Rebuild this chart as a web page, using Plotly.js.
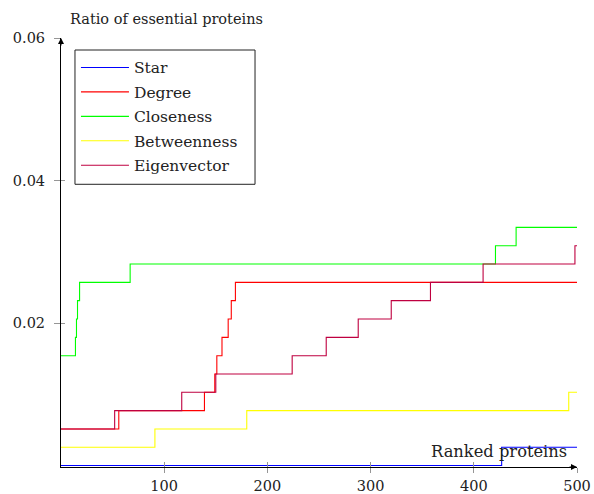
<!DOCTYPE html>
<html>
<head>
<meta charset="utf-8">
<script src="https://cdn.plot.ly/plotly-3.0.1.min.js"></script>
<style>html,body{margin:0;padding:0;background:#fff;}#chart{width:594px;height:494px;}</style>
</head>
<body>
<div id="chart"></div>
<script>
// Data (ranked protein index, ratio of essential proteins), step curves
const seriesNames = ["Star", "Degree", "Closeness", "Betweenness", "Eigenvector"];
const starX = [0, 427, 500];
const starY = [0, 0.00257, 0.00257];
const degreeX = [0, 56, 139, 149, 151, 156, 162, 165, 169, 500];
const degreeY = [0.00514, 0.00771, 0.01028, 0.01285, 0.01542, 0.01799, 0.02057, 0.02314, 0.02571, 0.02571];
const closenessX = [0, 14, 15, 16, 18, 67, 421, 441, 500];
const closenessY = [0.01542, 0.01799, 0.02057, 0.02314, 0.02571, 0.02828, 0.03085, 0.03342, 0.03342];
const betweennessX = [0, 91, 180, 492, 500];
const betweennessY = [0.00257, 0.00514, 0.00771, 0.01028, 0.01028];
const eigenX = [0, 52, 117, 150, 224, 257, 288, 320, 358, 409, 498, 500];
const eigenY = [0.00514, 0.00771, 0.01028, 0.01285, 0.01542, 0.01799, 0.02057, 0.02314, 0.02571, 0.02828, 0.03085, 0.03085];
const xTicks = [100, 200, 300, 400, 500];
const yTicks = [0.02, 0.04, 0.06];
const yTickText = ["0.02", "0.04", "0.06"];

const colors = ["rgb(0,0,255)", "rgb(255,0,0)", "rgb(0,255,0)", "rgb(255,255,0)", "rgb(191,0,64)"];
const xs = [starX, degreeX, closenessX, betweennessX, eigenX];
const ys = [starY, degreeY, closenessY, betweennessY, eigenY];

const FONT = "DejaVu Serif, serif";
const traces = seriesNames.map((n, i) => ({
  x: xs[i], y: ys[i], name: n, type: "scatter", mode: "lines",
  line: {shape: "hv", color: colors[i], width: 1.1},
  legendgroup: "g" + i, hoverinfo: "skip"
}));
// overlay axes for inward tick halves
traces.push({x: [], y: [], xaxis: "x2", yaxis: "y2", showlegend: false, hoverinfo: "skip"});

const tickGray = "rgb(150,150,150)";
const yRange = [-0.0002, 0.06];
const layout = {
  width: 594, height: 494,
  margin: {l: 61, r: 17, t: 38, b: 27},
  paper_bgcolor: "#fff", plot_bgcolor: "#fff",
  font: {family: FONT, size: 14, color: "#222"},
  showlegend: true,
  legend: {
    x: 0.029, y: 0.970, xanchor: "left", yanchor: "top",
    borderwidth: 0, bgcolor: "rgba(0,0,0,0)",
    font: {family: FONT, size: 15.5, color: "#222"},
    tracegroupgap: 1.3, traceorder: "grouped", itemwidth: 48
  },
  shapes: [
    {type: "rect", xref: "paper", yref: "paper", x0: 0.0271, x1: 0.376, y0: 0.659, y1: 0.972,
     line: {color: "#222", width: 1}, fillcolor: "#fff", layer: "above"}
  ],
  xaxis: {
    range: [0, 500], showgrid: false, zeroline: false,
    showline: true, linecolor: "#000", linewidth: 1, layer: "below traces",
    tickvals: xTicks, ticks: "outside", ticklen: 5, tickcolor: tickGray, tickwidth: 1,
    tickfont: {family: FONT, size: 14.5, color: "#222"}, ticklabelstandoff: 1
  },
  yaxis: {
    range: yRange, showgrid: false, zeroline: false,
    showline: true, linecolor: "#000", linewidth: 1, layer: "below traces",
    tickvals: yTicks, ticktext: yTickText, ticks: "outside", ticklen: 6, tickcolor: tickGray, tickwidth: 1,
    tickfont: {family: FONT, size: 14.5, color: "#222"}, ticklabelstandoff: 6
  },
  xaxis2: {
    overlaying: "x", anchor: "y2", range: [0, 500], showgrid: false, zeroline: false, showline: false,
    tickvals: xTicks, ticks: "inside", ticklen: 5, tickcolor: tickGray, tickwidth: 1, showticklabels: false
  },
  yaxis2: {
    overlaying: "y", anchor: "x2", range: yRange, showgrid: false, zeroline: false, showline: false,
    tickvals: yTicks, ticks: "inside", ticklen: 4, tickcolor: tickGray, tickwidth: 1, showticklabels: false
  },
  annotations: [
    {xref: "paper", yref: "paper", x: 0.0136, y: 1.044, xanchor: "left", yanchor: "middle",
     text: "Ratio of essential proteins", showarrow: false, font: {family: FONT, size: 14.5, color: "#222"}},
    {xref: "paper", yref: "paper", x: 0.984, y: 0.036, xanchor: "right", yanchor: "middle",
     text: "Ranked proteins", showarrow: false, font: {family: FONT, size: 16.3, color: "#222"}},
    {xref: "paper", yref: "paper", x: 1, y: 0, ax: -9, ay: 0, text: "", showarrow: true,
     arrowhead: 2, arrowsize: 1.2, arrowwidth: 1, arrowcolor: "#000"},
    {xref: "paper", yref: "paper", x: 0, y: 1, ax: 0, ay: 9, text: "", showarrow: true,
     arrowhead: 2, arrowsize: 1.2, arrowwidth: 1, arrowcolor: "#000"}
  ]
};
Plotly.newPlot("chart", traces, layout, {staticPlot: true, displayModeBar: false});
</script>
</body>
</html>
